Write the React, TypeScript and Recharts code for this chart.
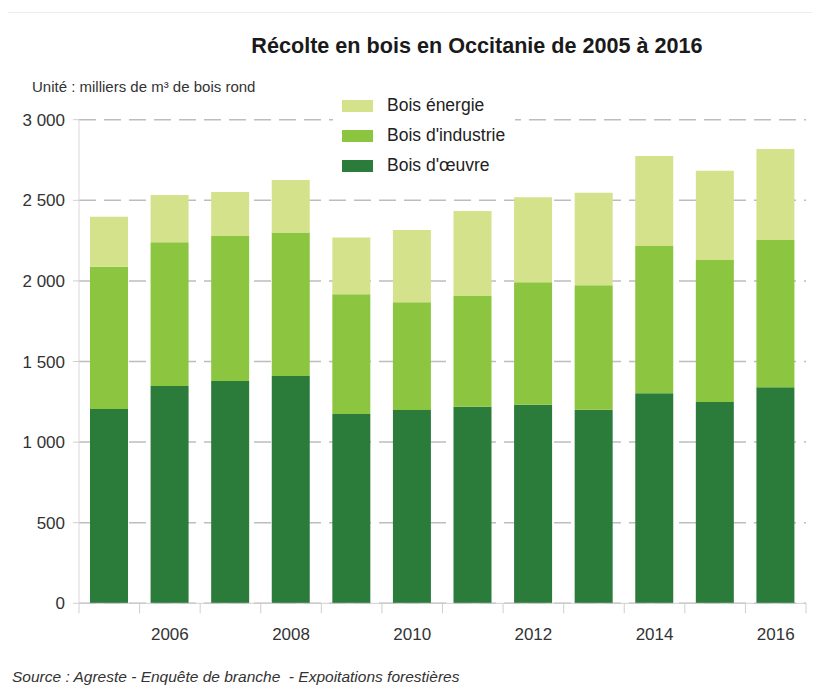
import React from "react";
import { BarChart, Bar, XAxis, YAxis, CartesianGrid, Legend } from "recharts";

const years = [2005, 2006, 2007, 2008, 2009, 2010, 2011, 2012, 2013, 2014, 2015, 2016];
const boisOeuvre = [1205, 1348, 1379, 1410, 1174, 1199, 1220, 1232, 1201, 1303, 1249, 1340];
const boisIndustrie = [883, 892, 900, 891, 743, 668, 686, 759, 772, 914, 881, 914];
const boisEnergie = [310, 293, 272, 325, 353, 449, 527, 528, 574, 558, 554, 564];
const yTicks = [0, 500, 1000, 1500, 2000, 2500, 3000];

const seriesNames = ["Bois d'œuvre", "Bois d'industrie", "Bois énergie"];
const seriesKeys = ["oeuvre", "industrie", "energie"];
const seriesColors = ["#2b7b3b", "#8cc53f", "#d4e28c"];

const data = years.map((y, i) => ({
  year: y,
  oeuvre: boisOeuvre[i],
  industrie: boisIndustrie[i],
  energie: boisEnergie[i],
}));

const FONT = '"Liberation Sans", Arial, sans-serif';
const W = 812;
const H = 682;
const MARGIN = { top: 111.7, right: 14, left: 0, bottom: 46.7 };
const Y_AXIS_W = 71;
const PLOT_W = W - MARGIN.left - MARGIN.right - Y_AXIS_W;
const HALF_BAND = PLOT_W / years.length / 2;

const fmt = (v: number) =>
  v >= 1000 ? `${Math.floor(v / 1000)}\u00a0${String(v % 1000).padStart(3, "0")}` : String(v);

const XTick = (props: any) => {
  const { x, y, payload, index } = props;
  const showLabel = payload.value % 2 === 0;
  return (
    <g>
      <line x1={x - HALF_BAND} x2={x - HALF_BAND} y1={y} y2={y + 10} stroke="#cfcfcf" strokeWidth={1} />
      {index === years.length - 1 && (
        <line x1={x + HALF_BAND} x2={x + HALF_BAND} y1={y} y2={y + 10} stroke="#cfcfcf" strokeWidth={1} />
      )}
      {showLabel && (
        <text x={x} y={y + 36.5} textAnchor="middle" fontFamily={FONT} fontSize={17} fill="#333">
          {payload.value}
        </text>
      )}
    </g>
  );
};

const LegendContent = () => (
  <div style={{ background: "#fff", width: 182, padding: 0 }}>
    {[2, 1, 0].map((i) => (
      <div key={seriesKeys[i]} style={{ display: "flex", alignItems: "center", height: 30 }}>
        <div style={{ width: 31, height: 12, background: seriesColors[i], marginLeft: 9, marginRight: 14, flex: "none" }} />
        <span style={{ fontFamily: FONT, fontSize: 17.5, color: "#222", lineHeight: 1, whiteSpace: "nowrap" }}>
          {seriesNames[i]}
        </span>
      </div>
    ))}
  </div>
);

export default function App() {
  return (
    <div style={{ position: "relative", width: W, height: H, background: "#fff" }}>
      <div style={{ position: "absolute", left: 0, top: 4, width: W, height: 1, background: "#ececec" }} />
      <div
        style={{
          position: "absolute",
          left: 169,
          top: 27,
          width: 600,
          textAlign: "center",
          fontFamily: FONT,
          fontWeight: "bold",
          fontSize: 21.6,
          lineHeight: 1,
          color: "#1a1a1a",
        }}
      >
        Récolte en bois en Occitanie de 2005 à 2016
      </div>
      <div
        style={{
          position: "absolute",
          left: 24,
          top: 71,
          fontFamily: FONT,
          fontSize: 15,
          lineHeight: 1,
          color: "#333",
          whiteSpace: "nowrap",
        }}
      >
        Unité : milliers de m³ de bois rond
      </div>
      <BarChart width={W} height={H} data={data} margin={MARGIN} barSize={38}>
        <CartesianGrid vertical={false} stroke="#bdbdbd" strokeWidth={1.5} strokeDasharray="17 8" />
        <XAxis
          dataKey="year"
          interval={0}
          height={40}
          tickSize={0}
          tickMargin={0}
          tickLine={false}
          axisLine={{ stroke: "#cfcfcf" }}
          tick={<XTick />}
        />
        <YAxis
          width={Y_AXIS_W}
          domain={[0, 3000]}
          ticks={yTicks}
          tickFormatter={fmt}
          interval={0}
          tickSize={6}
          tickMargin={8}
          tickLine={{ stroke: "#cfcfcf" }}
          axisLine={{ stroke: "#d8d8d8" }}
          tick={{ fontFamily: FONT, fontSize: 17, fill: "#333" }}
        />
        <Legend
          layout="vertical"
          align="center"
          verticalAlign="middle"
          content={<LegendContent />}
          wrapperStyle={{ left: 325, top: 83, width: 182 }}
        />
        {seriesKeys.map((k, i) => (
          <Bar key={k} dataKey={k} name={seriesNames[i]} stackId="a" fill={seriesColors[i]} isAnimationActive={false} />
        ))}
      </BarChart>
      <div
        style={{
          position: "absolute",
          left: 4,
          top: 661,
          fontFamily: FONT,
          fontStyle: "italic",
          fontSize: 15.5,
          lineHeight: 1,
          color: "#333",
          whiteSpace: "pre",
        }}
      >
        {"Source : Agreste - Enquête de branche  - Expoitations forestières"}
      </div>
    </div>
  );
}
